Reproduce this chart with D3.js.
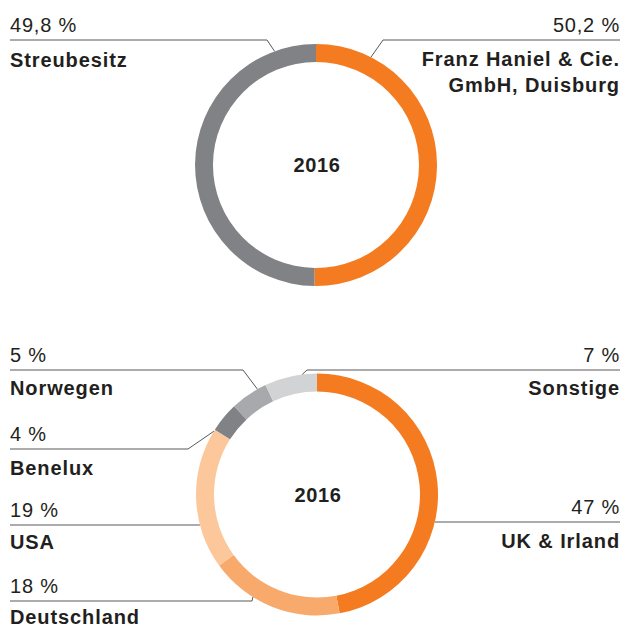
<!DOCTYPE html>
<html>
<head>
<meta charset="utf-8">
<script src="https://cdn.jsdelivr.net/npm/d3@7"></script>
<style>
  html, body { margin: 0; padding: 0; background: #fff; }
  svg { display: block; font-family: "Liberation Sans", Arial, sans-serif; }
  .pct { font-size: 20px; fill: #231f20; letter-spacing: 0.8px; }
  .name { font-size: 20px; font-weight: bold; fill: #231f20; letter-spacing: 0.9px; }
  .year { font-size: 20px; font-weight: bold; fill: #231f20; letter-spacing: 0.6px; }
  .leader { fill: none; stroke: #58595b; stroke-width: 1; }
</style>
</head>
<body>
<div id="chart"></div>
<script>
// Aktionärsstruktur 2016
const ownerNames = [["Franz Haniel & Cie.", "GmbH, Duisburg"], ["Streubesitz"]];
const ownerValues = [50.2, 49.8];
const ownerLabels = ["50,2 %", "49,8 %"];
const ownerColors = ["#f47b20", "#808285"];

// Umsatz nach Regionen 2016
const regionNames = [["UK & Irland"], ["Deutschland"], ["USA"], ["Benelux"], ["Norwegen"], ["Sonstige"]];
const regionValues = [47, 18, 19, 4, 5, 7];
const regionLabels = ["47 %", "18 %", "19 %", "4 %", "5 %", "7 %"];
const regionColors = ["#f47b20", "#f8aa6c", "#fcc89b", "#808285", "#a7a9ac", "#d1d3d4"];

const year = "2016";

const width = 625, height = 628;
const rOuter = 121, rInner = 103;

// label layout: side, y of leader line, elbow x, anchor angle on ring (deg, clockwise from top), name offset
const ownerLayout = [
  {side: "right", lineY: 40, elbow: 383, angle: 27, dy: 26},
  {side: "left",  lineY: 40, elbow: 267, angle: 340, dy: 27}
];
const regionLayout = [
  {side: "right", lineY: 522, elbow: null, angle: 103, dy: 26},
  {side: "left",  lineY: 601, elbow: 252, angle: 212, dy: 23},
  {side: "left",  lineY: 525, elbow: null, angle: 255.4, dy: 24},
  {side: "left",  lineY: 449, elbow: 188, angle: 301.5, dy: 26},
  {side: "left",  lineY: 370, elbow: 243, angle: 330.5, dy: 25},
  {side: "right", lineY: 370, elbow: 307, angle: 353, dy: 25}
];

const svg = d3.select("#chart").append("svg")
  .attr("width", width)
  .attr("height", height);

const arc = d3.arc().innerRadius(rInner).outerRadius(rOuter);
const pie = d3.pie().sort(null).value(d => d);

function donut(cx, cy, values, colors, names, labels, layout) {
  const g = svg.append("g");
  const arcs = pie(values);

  g.append("g")
    .attr("transform", `translate(${cx},${cy})`)
    .selectAll("path")
    .data(arcs)
    .join("path")
      .attr("d", arc)
      .attr("fill", (d, i) => colors[i]);

  g.append("text")
    .attr("class", "year")
    .attr("x", cx + 1)
    .attr("y", cy + 7)
    .attr("text-anchor", "middle")
    .text(year);

  layout.forEach((l, i) => {
    const a = l.angle * Math.PI / 180;
    const ax = cx + rOuter * Math.sin(a);
    const ay = cy - rOuter * Math.cos(a);
    const edge = l.side === "left" ? 10 : 620;
    const pts = [[edge, l.lineY]];
    if (l.elbow != null) pts.push([l.elbow, l.lineY], [ax, ay]);
    else pts.push([ax, l.lineY]);

    g.append("path")
      .attr("class", "leader")
      .attr("d", d3.line()(pts));

    const anchor = l.side === "left" ? "start" : "end";
    g.append("text")
      .attr("class", "pct")
      .attr("x", edge)
      .attr("y", l.lineY - 8)
      .attr("text-anchor", anchor)
      .text(labels[i]);

    names[i].forEach((n, k) => {
      g.append("text")
        .attr("class", "name")
        .attr("x", edge)
        .attr("y", l.lineY + l.dy + k * 26)
        .attr("text-anchor", anchor)
        .text(n);
    });
  });
}

donut(316, 165, ownerValues, ownerColors, ownerNames, ownerLabels, ownerLayout);
donut(317, 494.5, regionValues, regionColors, regionNames, regionLabels, regionLayout);
</script>
</body>
</html>
